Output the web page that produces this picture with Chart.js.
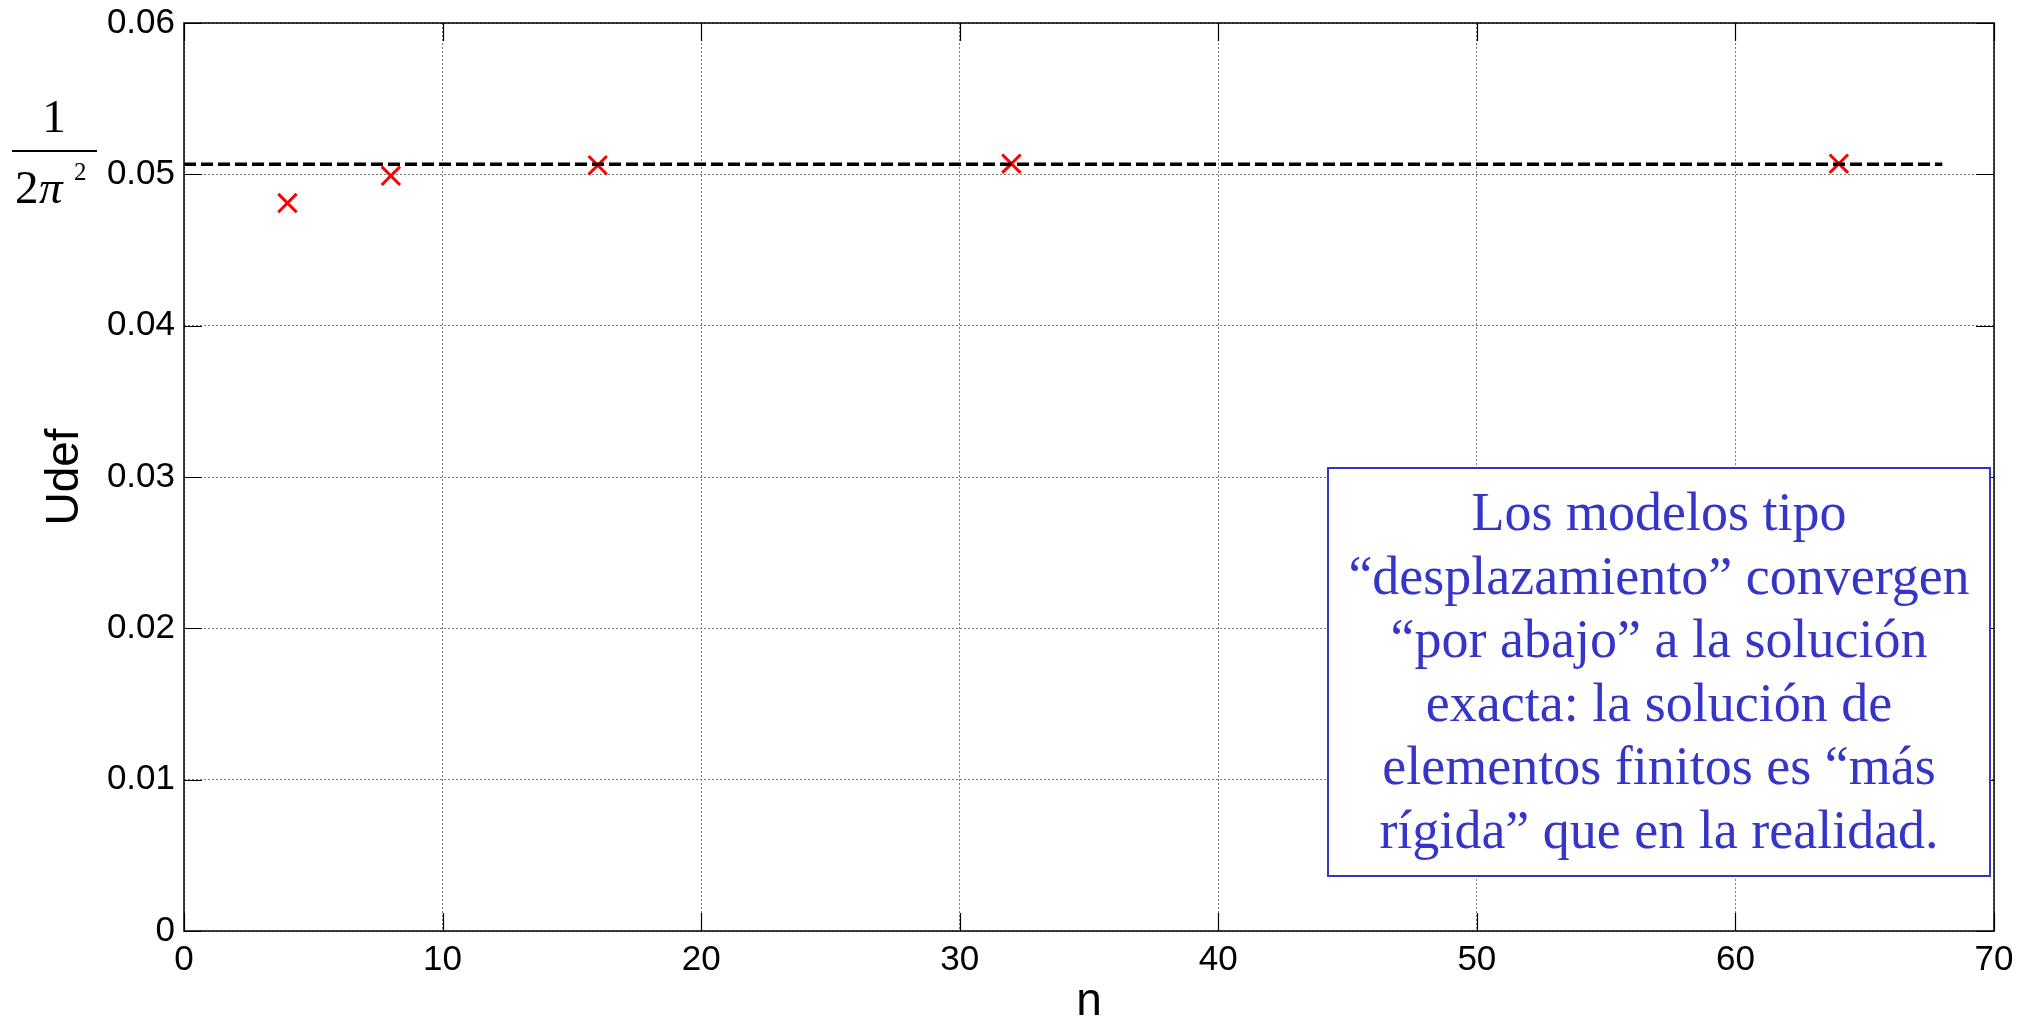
<!DOCTYPE html>
<html><head><meta charset="utf-8">
<script src="https://cdn.jsdelivr.net/npm/chart.js@4.4.0/dist/chart.umd.min.js"></script>
<style>html,body{margin:0;padding:0;background:#fff;overflow:hidden}#wrap{width:2022px;height:1023px;position:relative}</style>
</head><body><div id="wrap"><canvas id="c" width="2022" height="1023"></canvas></div>
<script>
const nValues = [4, 8, 16, 32, 64];
const udefValues = [0.0481, 0.0499, 0.0506, 0.0507, 0.0507];
const exactX = [0, 68];
const exactY = [0.05066, 0.05066];
const xTicks = [0, 10, 20, 30, 40, 50, 60, 70];
const yTicks = [0, 0.01, 0.02, 0.03, 0.04, 0.05, 0.06];
const yTickLabels = ['0', '0.01', '0.02', '0.03', '0.04', '0.05', '0.06'];
const xTitle = 'n';
const yTitle = 'Udef';
const noteLines = ['Los modelos tipo', '“desplazamiento” convergen', '“por abajo” a la solución', 'exacta: la solución de', 'elementos finitos es “más', 'rígida” que en la realidad.'];

const exactPts = exactX.map((x, i) => ({x: x, y: exactY[i]}));
const udefPts = nValues.map((n, i) => ({x: n, y: udefValues[i]}));

const BLUE = '#3535c8';
const overlay = {
  id: 'overlay',
  afterDraw(chart) {
    const ctx = chart.ctx, a = chart.chartArea;
    const xs = chart.scales.x, ys = chart.scales.y;
    ctx.save();
    // box
    ctx.strokeStyle = '#000'; ctx.lineWidth = 1.5; ctx.setLineDash([]);
    ctx.strokeRect(a.left, a.top, a.right - a.left, a.bottom - a.top);
    // inward tick marks on all sides
    const tl = 18;
    ctx.lineWidth = 1.2;
    ctx.beginPath();
    xTicks.forEach(v => {
      const px = Math.round(xs.getPixelForValue(v)) + 0.5;
      ctx.moveTo(px, a.bottom); ctx.lineTo(px, a.bottom - tl);
      ctx.moveTo(px, a.top); ctx.lineTo(px, a.top + tl);
    });
    yTicks.forEach(v => {
      const py = Math.round(ys.getPixelForValue(v)) + 0.5;
      ctx.moveTo(a.left, py); ctx.lineTo(a.left + tl, py);
      ctx.moveTo(a.right, py); ctx.lineTo(a.right - tl, py);
    });
    ctx.stroke();
    // 1/(2π²) label
    ctx.fillStyle = '#000';
    ctx.textAlign = 'center'; ctx.textBaseline = 'alphabetic';
    ctx.font = '47px "Liberation Serif", "Times New Roman", serif';
    ctx.fillText('1', 54, 132);
    ctx.fillRect(12, 150, 85, 2);
    ctx.textAlign = 'left';
    ctx.fillText('2', 15, 203);
    ctx.font = 'italic 47px "Liberation Serif", "Times New Roman", serif';
    ctx.fillText('π', 39, 203);
    ctx.font = '25px "Liberation Serif", "Times New Roman", serif';
    ctx.fillText('2', 74, 180);
    // note box
    const bx = 1328, by = 468, bw = 662, bh = 408;
    ctx.fillStyle = '#fff';
    ctx.fillRect(bx, by, bw, bh);
    ctx.strokeStyle = BLUE; ctx.lineWidth = 2;
    ctx.strokeRect(bx, by, bw, bh);
    ctx.fillStyle = BLUE;
    ctx.textAlign = 'center';
    ctx.font = '54px "Liberation Serif", "Times New Roman", serif';
    noteLines.forEach((t, i) => ctx.fillText(t, bx + bw / 2, 530 + 63.6 * i));
    ctx.restore();
  }
};

new Chart(document.getElementById('c'), {
  type: 'scatter',
  data: {
    datasets: [
      {
        label: '1/(2π²)',
        data: exactPts,
        showLine: true,
        borderColor: '#000',
        borderWidth: 3.5,
        borderDash: [12, 5],
        pointRadius: 0,
        fill: false
      },
      {
        label: 'Udef',
        data: udefPts,
        showLine: false,
        pointStyle: 'crossRot',
        pointRadius: 13,
        pointBorderWidth: 3,
        borderColor: '#ff0000',
        backgroundColor: '#ff0000'
      }
    ]
  },
  options: {
    responsive: false,
    animation: false,
    layout: {padding: {top: 23, right: 28, left: 0, bottom: 0}},
    plugins: {legend: {display: false}, tooltip: {enabled: false}},
    scales: {
      x: {
        type: 'linear', min: 0, max: 70,
        afterBuildTicks: s => { s.ticks = xTicks.map(v => ({value: v})); },
        afterFit: s => { s.height = 92; s.paddingLeft = 0; s.paddingRight = 0; },
        grid: {color: '#7a7a7a', lineWidth: 1, drawTicks: false},
        border: {display: false, dash: [2, 2]},
        ticks: {color: '#000', padding: 8, font: {family: 'Liberation Sans, Arial, sans-serif', size: 35}, maxRotation: 0},
        title: {display: true, text: xTitle, color: '#000', padding: {top: 0, bottom: -2}, font: {family: 'Liberation Sans, Arial, sans-serif', size: 46, lineHeight: 1}}
      },
      y: {
        type: 'linear', min: 0, max: 0.06,
        afterBuildTicks: s => { s.ticks = yTicks.map(v => ({value: v})); },
        afterFit: s => { s.width = 184; s.paddingTop = 0; s.paddingBottom = 0; },
        grid: {color: '#7a7a7a', lineWidth: 1, drawTicks: false},
        border: {display: false, dash: [2, 2]},
        ticks: {color: '#000', padding: 9, font: {family: 'Liberation Sans, Arial, sans-serif', size: 35},
          callback: (v, i) => yTickLabels[i]},
        title: {display: true, text: yTitle, color: '#000', padding: {top: 42, bottom: 0}, font: {family: 'Liberation Sans, Arial, sans-serif', size: 46, lineHeight: 1}}
      }
    }
  },
  plugins: [overlay]
});
</script>
</body></html>
